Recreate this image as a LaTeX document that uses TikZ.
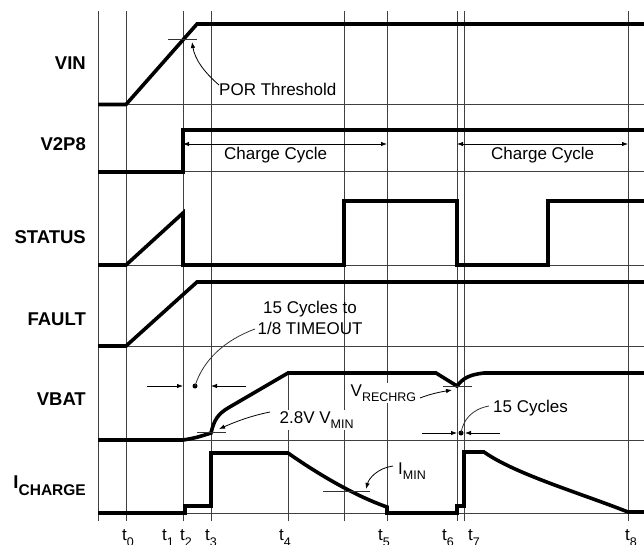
\documentclass[tikz,border=0pt]{standalone}
\usepackage{fontspec}
\setmainfont{Liberation Sans}
\usetikzlibrary{arrows.meta}
\newcommand{\mysub}[1]{\raisebox{-5pt}{\fontsize{12.5}{13}\selectfont #1}}
\newcommand{\tsub}[1]{\raisebox{-6pt}{\fontsize{12.5}{13}\selectfont #1}}
\newcommand{\bsub}[1]{\raisebox{-7pt}{\fontsize{15.5}{16}\selectfont #1}}
\begin{document}
\begin{tikzpicture}[x=1pt,y=-1pt,
  sig/.style={line width=3.6pt},
  gridln/.style={black!75, line width=0.9pt},
  tick/.style={black!80, line width=0.8pt},
  lbl/.style={font=\fontsize{18.5}{20}\selectfont\bfseries, inner sep=0pt, anchor=base east},
  ann/.style={font=\fontsize{17}{21}\selectfont, inner sep=0pt, anchor=base west},
  tl/.style={font=\fontsize{17}{20}\selectfont, inner sep=0pt, anchor=base west},
  arr/.style={-{Latex[length=6pt,width=4.5pt]}, line width=0.8pt},
  dbl/.style={{Latex[length=6pt,width=4.5pt]}-{Latex[length=6pt,width=4.5pt]}, line width=0.8pt},
  dotm/.style={fill=black},
]
\fill[white] (0,0) rectangle (644,544);
\useasboundingbox (0,0) rectangle (644,544);

% grid
\foreach \x in {98,126,183,211,344,387,457,464,628}
  \draw[gridln] (\x,11) -- (\x,521);
\draw[gridln] (288,375) -- (288,521);
\foreach \y in {104.5,171.7,265,346,440,513}
  \draw[gridln] (98,\y) -- (644,\y);

% signal labels
\node[lbl] (vin) at (86,69) {VIN};
\node[lbl] (v2p8) at (86,150) {V2P8};
\node[lbl] (status) at (86,243) {STATUS};
\node[lbl] (fault) at (86,325) {FAULT};
\node[lbl] (vbat) at (86,405) {VBAT};
\node[lbl] (ichg) at (86,488) {I\bsub{CHARGE}};

% time labels
\node[tl] (t0) at (122,540) {t\tsub{0}};
\node[tl] (t1) at (162,540) {t\tsub{1}};
\node[tl] (t2) at (180,540) {t\tsub{2}};
\node[tl] (t3) at (205,540) {t\tsub{3}};
\node[tl] (t4) at (279,540) {t\tsub{4}};
\node[tl] (t5) at (378,540) {t\tsub{5}};
\node[tl] (t6) at (442,540) {t\tsub{6}};
\node[tl] (t7) at (468,540) {t\tsub{7}};
\node[tl] (t8) at (625,540) {t\tsub{8}};

% signals
\draw[sig] (98,104.5) -- (126,104.5) -- (197,24) -- (644,24);
\draw[sig] (98,171.7) -- (183,171.7) -- (183,130) -- (644,130);
\draw[sig] (98,265) -- (126,265) -- (183,213) -- (183,265) -- (344,265) -- (344,201)
  -- (457,201) -- (457,265) -- (548,265) -- (548,201) -- (644,201);
\draw[sig] (98,346) -- (126,346) -- (197,282) -- (644,282);
\draw[sig] (98,440) -- (183,440) .. controls (195,438) .. (211,433)
  .. controls (214,420) and (218,414) .. (228,408) -- (288,373) -- (436,373) -- (457,386)
  .. controls (463,378) and (470,374.5) .. (484,373) -- (644,373);
\draw[sig] (98,513) -- (185,513) -- (185,506) -- (211,506) -- (211,453) -- (288,453)
  .. controls (305,465) and (347,493) .. (387,507) -- (387,513) -- (457,513) -- (457,506)
  -- (464,506) -- (464,452) -- (484,452)
  .. controls (515,474) and (580,493) .. (628,512) -- (644,512);

% POR threshold
\draw[tick] (168,39) -- (197,39);
\node[ann] (por) at (219,95) {POR Threshold};
\coordinate (porpt) at (192,42);
\coordinate (porst) at (219,85);
\draw[arr] (porst) .. controls (205,73) and (195,60) .. (porpt);

% charge cycles
\coordinate (cc1a) at (183,144);
\coordinate (cc1b) at (387,144);
\coordinate (cc2a) at (457,144);
\coordinate (cc2b) at (628,144);
\draw[dbl] (cc1a) -- (cc1b);
\draw[dbl] (cc2a) -- (cc2b);
\node[ann] (cc1) at (224,159) {Charge Cycle};
\node[ann] (cc2) at (491,159) {Charge Cycle};

% timeout annotation
\node[ann, align=center, anchor=north] (tmo) at (310,300.5) {15 Cycles to\\1/8 TIMEOUT};
\coordinate (tmodot) at (195,386);
\coordinate (tmost) at (255,329);
\fill[dotm] (tmodot) circle (2.5);
\draw[tick] (tmost) .. controls (225,340) and (203,360) .. (tmodot);
\coordinate (d1a) at (147,386); \coordinate (d1b) at (183,386);
\coordinate (d2a) at (246,386); \coordinate (d2b) at (211,386);
\draw[arr] (d1a) -- (d1b);
\draw[arr] (d2a) -- (d2b);

% VMIN
\draw[tick] (197,432) -- (226,432);
\node[ann, fill=white, inner sep=1.5pt] (vmin) at (278,423) {2.8V V\mysub{MIN}};
\coordinate (vminst) at (270,412);
\coordinate (vminpt) at (219,429);
\draw[arr] (vminst) .. controls (250,416) and (235,422) .. (vminpt);

% VRECHRG
\draw[tick] (443,386) -- (472,386);
\node[ann, fill=white, inner sep=1.5pt] (vrech) at (349,396) {V\mysub{RECHRG}};
\coordinate (vrst) at (420,398);
\coordinate (vrpt) at (452,390);
\draw[arr] (vrst) .. controls (430,394) and (440,392) .. (vrpt);

% 15 cycles
\node[ann] (c15) at (493,412) {15 Cycles};
\coordinate (c15dot) at (461,433);
\coordinate (c15st) at (489,406);
\fill[dotm] (c15dot) circle (2.5);
\draw[tick] (c15st) .. controls (472,409) and (463,420) .. (c15dot);
\coordinate (d3a) at (422,433); \coordinate (d3b) at (457,433);
\coordinate (d4a) at (500,433); \coordinate (d4b) at (465,433);
\draw[arr] (d3a) -- (d3b);
\draw[arr] (d4a) -- (d4b);

% IMIN
\draw[tick] (323,491) -- (370,491);
\node[ann] (imin) at (398,474) {I\mysub{MIN}};
\coordinate (imst) at (393,466);
\coordinate (impt) at (366,489);
\draw[arr] (imst) .. controls (378,468) and (369,478) .. (impt);
\end{tikzpicture}
\end{document}
